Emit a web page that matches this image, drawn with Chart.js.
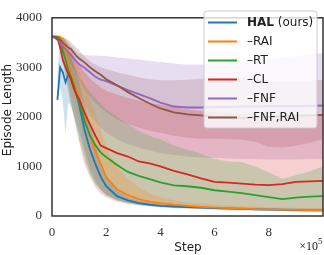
<!DOCTYPE html>
<html>
<head>
<meta charset="utf-8">
<script src="https://cdn.jsdelivr.net/npm/chart.js@4"></script>
<style>
  body { margin: 0; background: #fff; }
  #wrap { width: 324px; height: 255px; }
</style>
</head>
<body>
<div id="wrap"><canvas id="chart" width="324" height="255"></canvas></div>
<script>
// step values, in units of 1e5
const steps = [0, 0.1, 0.2, 0.3, 0.4, 0.5, 0.6, 0.7, 0.8, 0.9, 1.0, 1.2, 1.4, 1.6, 1.8, 2.0, 2.4, 2.8, 3.2, 3.6, 4.0, 4.5, 5, 5.5, 6, 6.5, 7, 7.5, 8, 8.5, 9, 9.5, 10];

const seriesNames = ['HAL (ours)', '–RAI', '–RT', '–CL', '–FNF', '–FNF,RAI'];
const seriesColors = ['31,119,180', '255,127,14', '44,160,44', '214,39,40', '148,103,189', '140,86,75'];

// mean episode length
const halMean = [null, null, 2345, 3000, 2900, 2700, 2850, 2820, 2650, 2450, 2250, 1740, 1350, 1050, 790, 600, 400, 315, 260, 228, 205, 192, 180, 170, 160, 150, 142, 135, 128, 122, 118, 115, 112];
const raiMean = [3620, 3620, 3620, 3620, 3500, 3300, 3100, 2920, 2720, 2550, 2420, 1990, 1610, 1300, 1040, 780, 540, 420, 340, 292, 260, 228, 205, 185, 170, 158, 148, 140, 133, 127, 122, 118, 115];
const rtMean = [3620, 3620, 3620, 3550, 3330, 3150, 2950, 2800, 2650, 2450, 2300, 1920, 1630, 1430, 1280, 1190, 1030, 890, 810, 745, 680, 620, 600, 570, 520, 490, 460, 420, 380, 340, 370, 390, 400];
const clMean = [3620, 3620, 3580, 3400, 3150, 3000, 2880, 2750, 2580, 2450, 2360, 2080, 1850, 1620, 1420, 1370, 1270, 1200, 1100, 1060, 1000, 910, 840, 760, 690, 675, 655, 635, 625, 645, 690, 700, 710];
const fnfMean = [3620, 3600, 3560, 3500, 3420, 3360, 3300, 3250, 3180, 3120, 3060, 2990, 2900, 2810, 2750, 2720, 2630, 2540, 2460, 2380, 2290, 2210, 2190, 2190, 2200, 2200, 2210, 2210, 2220, 2220, 2220, 2220, 2230];
const fnfRaiMean = [3620, 3600, 3560, 3560, 3500, 3450, 3400, 3370, 3300, 3230, 3180, 3100, 3000, 2920, 2850, 2760, 2640, 2500, 2380, 2270, 2170, 2090, 2050, 2030, 2000, 1990, 1980, 1990, 2000, 2010, 2020, 2030, 2040];

// shaded band, lower and upper edge
const halLo = [null, null, 2345, 2600, 2300, 1660, 2300, 2200, 2050, 1850, 1700, 1290, 890, 670, 530, 420, 320, 260, 220, 190, 170, 155, 145, 135, 125, 118, 110, 105, 100, 96, 92, 90, 88];
const halHi = [null, null, 2900, 3550, 3400, 3300, 3300, 3200, 3050, 2900, 2700, 2250, 1850, 1450, 1100, 820, 520, 380, 310, 270, 240, 220, 205, 195, 185, 178, 170, 165, 160, 155, 150, 148, 145];
const raiLo = [3620, 3620, 3620, 3550, 3300, 3000, 2700, 2450, 2250, 2050, 1900, 1400, 1000, 750, 560, 430, 330, 280, 240, 210, 190, 170, 155, 145, 135, 128, 120, 115, 110, 105, 100, 98, 95];
const raiHi = [3620, 3620, 3620, 3620, 3620, 3600, 3500, 3350, 3200, 3080, 2950, 2650, 2350, 2050, 1750, 1400, 1000, 750, 580, 460, 380, 320, 280, 250, 230, 215, 200, 190, 180, 172, 165, 160, 155];
const rtLo = [3620, 3620, 3620, 3500, 3200, 2900, 2600, 2300, 2050, 1800, 1550, 1150, 850, 650, 520, 430, 320, 260, 225, 205, 190, 175, 162, 152, 145, 140, 135, 130, 128, 125, 122, 120, 118];
const rtHi = [3620, 3620, 3620, 3620, 3600, 3500, 3380, 3250, 3100, 2950, 2800, 2650, 2500, 2380, 2270, 2150, 2000, 1850, 1720, 1620, 1550, 1420, 1340, 1250, 1150, 1100, 1090, 1000, 880, 750, 820, 900, 1000];
const clLo = [3620, 3620, 3600, 3400, 3100, 2800, 2500, 2250, 2000, 1750, 1500, 1050, 780, 580, 450, 380, 290, 245, 215, 198, 185, 170, 160, 150, 145, 140, 135, 130, 128, 125, 122, 120, 118];
const clHi = [3620, 3620, 3620, 3620, 3600, 3550, 3450, 3350, 3250, 3150, 3050, 2900, 2780, 2680, 2600, 2530, 2450, 2380, 2330, 2280, 2250, 2200, 2150, 2120, 2100, 2080, 2060, 2040, 2020, 2000, 2000, 2020, 2050];
const fnfLo = [3620, 3600, 3550, 3450, 3300, 3150, 3000, 2880, 2750, 2620, 2500, 2250, 2050, 1900, 1780, 1680, 1550, 1450, 1380, 1320, 1270, 1230, 1200, 1180, 1170, 1160, 1150, 1150, 1140, 1140, 1140, 1150, 1150];
const fnfHi = [3620, 3620, 3620, 3620, 3600, 3550, 3500, 3450, 3380, 3320, 3280, 3250, 3240, 3240, 3230, 3230, 3200, 3180, 3160, 3130, 3110, 3080, 3050, 3060, 3080, 3100, 3120, 3150, 3180, 3200, 3230, 3260, 3290];
const fnfRaiLo = [3620, 3580, 3520, 3450, 3350, 3250, 3150, 3050, 2950, 2850, 2750, 2550, 2400, 2280, 2180, 2100, 1950, 1850, 1780, 1720, 1680, 1620, 1580, 1560, 1560, 1550, 1540, 1500, 1400, 1380, 1420, 1480, 1550];
const fnfRaiHi = [3620, 3620, 3620, 3620, 3600, 3580, 3550, 3500, 3450, 3400, 3350, 3220, 3120, 3050, 3000, 2960, 2900, 2850, 2800, 2760, 2740, 2740, 2750, 2770, 2790, 2800, 2800, 2780, 2740, 2720, 2710, 2730, 2750];

const yTicks = [0, 1000, 2000, 3000, 4000];
const xTicks = [0, 2, 4, 6, 8];

const means = [halMean, raiMean, rtMean, clMean, fnfMean, fnfRaiMean];
const los = [halLo, raiLo, rtLo, clLo, fnfLo, fnfRaiLo];
const his = [halHi, raiHi, rtHi, clHi, fnfHi, fnfRaiHi];

const pts = arr => arr.map((v, i) => ({ x: steps[i], y: v }));

const datasets = [];
// bands first (pairs: lower edge, then upper edge filled to the lower one)
means.forEach((m, i) => {
    const loIdx = datasets.length;
    datasets.push({
        data: pts(los[i]), borderWidth: 0, pointRadius: 0, fill: false,
        borderColor: 'transparent', order: 20 + i
    });
    datasets.push({
        data: pts(his[i]), borderWidth: 0, pointRadius: 0,
        borderColor: 'transparent',
        backgroundColor: `rgba(${seriesColors[i]},0.22)`,
        fill: { target: loIdx }, order: 20 + i
    });
});
// mean lines on top, later series drawn over earlier ones
means.forEach((m, i) => {
    datasets.push({
        label: seriesNames[i], data: pts(m),
        borderColor: `rgb(${seriesColors[i]})`, borderWidth: 1.8,
        pointRadius: 0, fill: false, order: 10 - i
    });
});

const extras = {
    id: 'extras',
    afterDraw(chart) {
        const ctx = chart.ctx;
        const a = chart.chartArea;
        ctx.save();
        // frame
        ctx.strokeStyle = '#333';
        ctx.lineWidth = 1.5;
        ctx.strokeRect(a.left, a.top, a.right - a.left, a.bottom - a.top);

        // legend box
        const bx = 204, by = 11, bw = 113, bh = 117, r = 3;
        ctx.beginPath();
        ctx.roundRect(bx, by, bw, bh, r);
        ctx.fillStyle = 'rgba(255,255,255,0.8)';
        ctx.fill();
        ctx.strokeStyle = '#cccccc';
        ctx.lineWidth = 1;
        ctx.stroke();

        ctx.textBaseline = 'middle';
        ctx.textAlign = 'left';
        seriesNames.forEach((name, i) => {
            const y = 22.5 + i * 19;
            ctx.strokeStyle = `rgb(${seriesColors[i]})`;
            ctx.lineWidth = 2;
            ctx.beginPath();
            ctx.moveTo(208, y);
            ctx.lineTo(237, y);
            ctx.stroke();
            ctx.fillStyle = '#222';
            if (i === 0) {
                ctx.font = 'bold 12px "DejaVu Sans"';
                ctx.fillText('HAL', 247, y + 0.5);
                const w = ctx.measureText('HAL').width;
                ctx.font = '12px "DejaVu Sans"';
                ctx.fillText(' (ours)', 247 + w, y + 0.5);
            } else {
                ctx.font = '12px "DejaVu Sans"';
                ctx.fillText(name, 247, y + 0.5);
            }
        });

        // axis titles
        ctx.fillStyle = '#222';
        ctx.font = '12px "DejaVu Sans"';
        ctx.textAlign = 'center';
        ctx.fillText('Step', 188, 248);
        ctx.save();
        ctx.translate(8, 110);
        ctx.rotate(-Math.PI / 2);
        ctx.fillText('Episode Length', 0, 0);
        ctx.restore();

        // offset text
        ctx.font = '12px "Liberation Serif"';
        ctx.textAlign = 'right';
        ctx.fillText('×10', 318, 247);
        ctx.font = '9px "Liberation Serif"';
        ctx.textAlign = 'left';
        ctx.fillText('5', 318, 242);
        ctx.restore();
    }
};

new Chart(document.getElementById('chart'), {
    type: 'line',
    data: { datasets },
    options: {
        responsive: false,
        animation: false,
        layout: { padding: { top: 4, right: 1, left: 0, bottom: 0 } },
        plugins: { legend: { display: false }, tooltip: { enabled: false } },
        elements: { line: { tension: 0 } },
        scales: {
            x: {
                type: 'linear', min: 0, max: 10,
                grid: { display: false, drawTicks: false },
                border: { display: false },
                afterBuildTicks: s => { s.ticks = xTicks.map(v => ({ value: v })); },
                afterFit: s => { s.height = 39; },
                ticks: { padding: 9, color: '#333', font: { family: 'Liberation Serif', size: 13 }, callback: v => String(v) }
            },
            y: {
                min: 0, max: 4000,
                grid: { display: false, drawTicks: false },
                border: { display: false },
                afterBuildTicks: s => { s.ticks = yTicks.map(v => ({ value: v })); },
                afterFit: s => { s.width = 52; },
                ticks: { padding: 10, color: '#333', font: { family: 'Liberation Serif', size: 13 }, callback: v => String(v) }
            }
        }
    },
    plugins: [extras]
});
</script>
</body>
</html>
